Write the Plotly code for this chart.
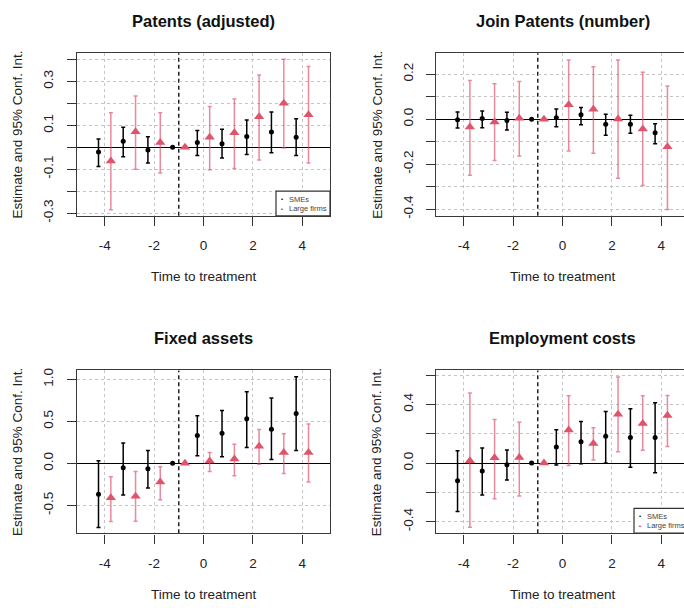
import plotly.graph_objects as go
import math

W, H = 684, 608

# ---------------- data ----------------
periods = [-4, -3, -2, -1, 0, 1, 2, 3, 4]
titles = ["Patents (adjusted)", "Join Patents (number)", "Fixed assets", "Employment costs"]
x_ticks = [-4, -2, 0, 2, 4]
x_ticklabels = ["-4", "-2", "0", "2", "4"]
group_names = ["SMEs", "Large firms"]
NA = float("nan")

# Panel 1: Patents (adjusted)
p1_sme_est = [-0.022, 0.027, -0.013, 0.0, 0.022, 0.016, 0.049, 0.069, 0.046]
p1_sme_lo = [-0.088, -0.043, -0.072, NA, -0.037, -0.049, -0.033, -0.025, -0.037]
p1_sme_hi = [0.037, 0.091, 0.048, NA, 0.076, 0.082, 0.124, 0.161, 0.130]
p1_lrg_est = [-0.063, 0.070, 0.022, 0.0, 0.045, 0.066, 0.139, 0.200, 0.148]
p1_lrg_lo = [-0.284, -0.100, -0.117, NA, -0.102, -0.097, -0.058, -0.003, -0.072]
p1_lrg_hi = [0.157, 0.233, 0.157, NA, 0.185, 0.220, 0.329, 0.401, 0.368]

# Panel 2: Join Patents (number)
p2_sme_est = [-0.003, 0.003, -0.006, 0.0, 0.006, 0.020, -0.022, -0.022, -0.060]
p2_sme_lo = [-0.039, -0.038, -0.048, NA, -0.033, -0.025, -0.071, -0.062, -0.109]
p2_sme_hi = [0.032, 0.036, 0.031, NA, 0.045, 0.052, 0.022, 0.017, -0.020]
p2_lrg_est = [-0.035, -0.012, 0.004, 0.0, 0.064, 0.044, 0.001, -0.044, -0.122]
p2_lrg_lo = [-0.249, -0.183, -0.164, NA, -0.141, -0.151, -0.262, -0.294, -0.401]
p2_lrg_hi = [0.172, 0.157, 0.167, NA, 0.263, 0.233, 0.263, 0.208, 0.148]

# Panel 3: Fixed assets
p3_sme_est = [-0.367, -0.051, -0.063, 0.0, 0.332, 0.359, 0.531, 0.406, 0.594]
p3_sme_lo = [-0.762, -0.375, -0.293, NA, 0.090, 0.078, 0.188, 0.047, 0.152]
p3_sme_hi = [0.031, 0.242, 0.152, NA, 0.566, 0.629, 0.852, 0.777, 1.031]
p3_lrg_est = [-0.410, -0.391, -0.223, 0.0, 0.027, 0.051, 0.203, 0.129, 0.129]
p3_lrg_lo = [-0.691, -0.688, -0.434, NA, -0.098, -0.148, -0.012, -0.121, -0.223]
p3_lrg_hi = [-0.160, -0.098, -0.039, NA, 0.129, 0.227, 0.402, 0.352, 0.469]

# Panel 4: Employment costs
p4_sme_est = [-0.121, -0.054, -0.011, 0.0, 0.110, 0.146, 0.184, 0.175, 0.175]
p4_sme_lo = [-0.331, -0.217, -0.116, NA, -0.013, -0.004, 0.000, -0.029, -0.065]
p4_sme_hi = [0.085, 0.103, 0.090, NA, 0.228, 0.284, 0.352, 0.370, 0.412]
p4_lrg_est = [0.016, 0.036, 0.038, 0.0, 0.226, 0.134, 0.334, 0.271, 0.325]
p4_lrg_lo = [-0.437, -0.244, -0.224, NA, -0.016, 0.022, 0.078, 0.087, 0.114]
p4_lrg_hi = [0.479, 0.298, 0.278, NA, 0.459, 0.242, 0.587, 0.459, 0.461]

# y-axis ticks (value, label) per panel
p1_yticks = [-0.3, -0.2, -0.1, 0.0, 0.1, 0.2, 0.3, 0.4]
p1_ylabels = ["-0.3", "", "-0.1", "", "0.1", "", "0.3", ""]
p2_yticks = [-0.4, -0.3, -0.2, -0.1, 0.0, 0.1, 0.2]
p2_ylabels = ["-0.4", "", "-0.2", "", "0.0", "", "0.2"]
p3_yticks = [-0.5, 0.0, 0.5, 1.0]
p3_ylabels = ["-0.5", "0.0", "0.5", "1.0"]
p4_yticks = [-0.4, -0.2, 0.0, 0.2, 0.4, 0.6]
p4_ylabels = ["-0.4", "", "0.0", "", "0.4", ""]

# ---------------- styling / layout constants ----------------
DODGE = 0.25
BLACK = "#000000"
RED = "#DF536B"
RED_BAR = "rgba(223,83,107,0.68)"
FONT = "Liberation Sans, Arial, sans-serif"
REF_PERIOD = -1

panels = [
    dict(sme=(p1_sme_est, p1_sme_lo, p1_sme_hi), lrg=(p1_lrg_est, p1_lrg_lo, p1_lrg_hi),
         yt=p1_yticks, yl=p1_ylabels, yr=[-0.312, 0.428], xr=[-5.12, 5.12],
         xd=[77, 330], yd=[52, 217]),
    dict(sme=(p2_sme_est, p2_sme_lo, p2_sme_hi), lrg=(p2_lrg_est, p2_lrg_lo, p2_lrg_hi),
         yt=p2_yticks, yl=p2_ylabels, yr=[-0.429, 0.293], xr=[-5.11, 4.92],
         xd=[436.3, 684], yd=[52, 217]),
    dict(sme=(p3_sme_est, p3_sme_lo, p3_sme_hi), lrg=(p3_lrg_est, p3_lrg_lo, p3_lrg_hi),
         yt=p3_yticks, yl=p3_ylabels, yr=[-0.832, 1.105], xr=[-5.12, 5.12],
         xd=[77, 330], yd=[374, 539.3]),
    dict(sme=(p4_sme_est, p4_sme_lo, p4_sme_hi), lrg=(p4_lrg_est, p4_lrg_lo, p4_lrg_hi),
         yt=p4_yticks, yl=p4_ylabels, yr=[-0.479, 0.632], xr=[-5.11, 4.92],
         xd=[436.3, 684], yd=[374, 539.3]),
]


def px(x):
    return x / W


def py(y):
    return 1 - y / H


def err(est, lo, hi):
    up = [h - e if not math.isnan(h) else NA for e, h in zip(est, hi)]
    dn = [e - l if not math.isnan(l) else NA for e, l in zip(est, lo)]
    return up, dn


fig = go.Figure()
layout = dict(width=W, height=H, margin=dict(l=0, r=0, t=0, b=0),
              paper_bgcolor="white", plot_bgcolor="white", showlegend=False,
              font=dict(family=FONT, color="#222"))
shapes = []
annotations = []

for i, p in enumerate(panels):
    n = "" if i == 0 else str(i + 1)
    xa, ya = "x" + n, "y" + n
    # SMEs
    est, lo, hi = p["sme"]
    up, dn = err(est, lo, hi)
    fig.add_trace(go.Scatter(
        x=[t - DODGE for t in periods], y=est, mode="markers", xaxis=xa, yaxis=ya,
        name=group_names[0],
        marker=dict(symbol="circle", size=5, color=BLACK),
        error_y=dict(type="data", symmetric=False, array=up, arrayminus=dn,
                     color=BLACK, thickness=1.5, width=2)))
    # Large firms
    est, lo, hi = p["lrg"]
    up, dn = err(est, lo, hi)
    fig.add_trace(go.Scatter(
        x=[t + DODGE for t in periods], y=est, mode="markers", xaxis=xa, yaxis=ya,
        name=group_names[1],
        marker=dict(symbol="triangle-up", size=9, color=RED),
        error_y=dict(type="data", symmetric=False, array=up, arrayminus=dn,
                     color=RED_BAR, thickness=1.5, width=2)))

    axis_common = dict(showline=True, linecolor="#3a3a3a", linewidth=1.4,
                       ticks="outside", ticklen=9, tickwidth=1, tickcolor="#333",
                       showgrid=True, gridcolor="#c4c4c4", griddash="dot", gridwidth=1,
                       tickfont=dict(size=13.5, family=FONT, color="#222"))
    layout["xaxis" + n] = dict(
        axis_common, domain=[px(p["xd"][0]), px(p["xd"][1])], range=p["xr"],
        anchor=ya, tickmode="array", tickvals=x_ticks, ticktext=x_ticklabels,
        mirror=True, ticklabelstandoff=8, zeroline=False)
    layout["yaxis" + n] = dict(
        axis_common, domain=[py(p["yd"][1]), py(p["yd"][0])], range=p["yr"],
        anchor=xa, tickmode="array", tickvals=p["yt"], ticktext=p["yl"],
        tickangle=-90, mirror=(i % 2 == 0), ticklabelstandoff=8,
        zeroline=True, zerolinecolor=BLACK, zerolinewidth=1.3)

    # reference-period line
    shapes.append(dict(type="line", xref=xa, yref=ya + " domain", x0=REF_PERIOD, x1=REF_PERIOD,
                       y0=0, y1=1, line=dict(color=BLACK, width=1.3, dash="4px,3px"),
                       layer="below"))

    cx = (p["xd"][0] + (p["xd"][1] if i % 2 == 0 else 689)) / 2
    top, bot = p["yd"]
    annotations.append(dict(text="<b>%s</b>" % titles[i], x=px(cx), y=py(top - 33),
                            xref="paper", yref="paper", showarrow=False,
                            xanchor="center", yanchor="middle",
                            font=dict(size=16.5, family=FONT, color="#111")))
    annotations.append(dict(text="Time to treatment", x=px(cx), y=py(bot + 52),
                            xref="paper", yref="paper", showarrow=False,
                            xanchor="center", yanchor="top",
                            font=dict(size=13.5, family=FONT, color="#222")))
    annotations.append(dict(text="Estimate and 95% Conf. Int.", x=px(p["xd"][0] - 59),
                            y=py((top + bot) / 2), xref="paper", yref="paper",
                            showarrow=False, textangle=-90, xanchor="center", yanchor="middle",
                            font=dict(size=13.5, family=FONT, color="#222")))

# legends (panel 1 and panel 4)
for (lx0, ly0, lx1, ly1) in [(276, 192, 330, 217), (634, 514, 690, 539)]:
    shapes.append(dict(type="rect", xref="paper", yref="paper",
                       x0=px(lx0), x1=px(lx1), y0=py(ly1), y1=py(ly0),
                       line=dict(color="#333", width=1.2), fillcolor="white", layer="above"))
    for k, (sym, col) in enumerate([("•", BLACK), ("▲", RED)]):
        yy = ly0 + 8 + k * 9.5
        annotations.append(dict(text=sym, x=px(lx0 + 5.5), y=py(yy), xref="paper", yref="paper",
                                showarrow=False, xanchor="center", yanchor="middle",
                                font=dict(size=6 if k == 0 else 4, color=col, family=FONT)))
        annotations.append(dict(text=group_names[k], x=px(lx0 + 11), y=py(yy), xref="paper",
                                yref="paper", showarrow=False, xanchor="left", yanchor="middle",
                                font=dict(size=7.5, color="#444", family=FONT)))

layout["shapes"] = shapes
layout["annotations"] = annotations
fig.update_layout(**layout)
fig.write_html("out.html")
